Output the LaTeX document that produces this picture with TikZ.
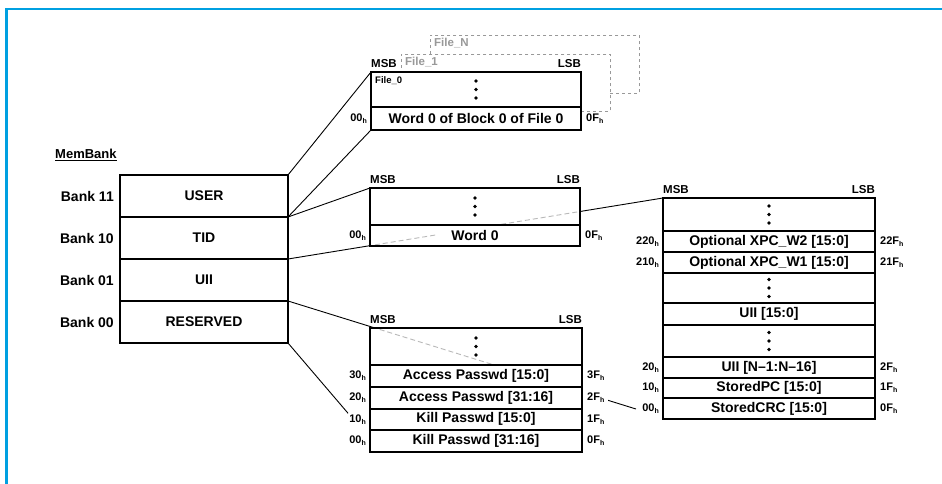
\documentclass[tikz,border=0pt]{standalone}
\usepackage{fontspec}
\setmainfont{Liberation Sans}
\usetikzlibrary{calc}
\definecolor{frameblue}{RGB}{0,160,225}
\newcommand\bigf{\fontsize{14}{16}\selectfont\bfseries}
\newcommand\smallf{\fontsize{11}{12}\selectfont\bfseries}
\newcommand\msbf{\fontsize{11.5}{13}\selectfont\bfseries}
\newcommand\hx[1]{#1\raisebox{-0.35ex}{\fontsize{7}{7}\selectfont h}}
\newcommand\vdotsin[1]{\foreach \dy in {-8.5,0,8.5}{\fill ($(#1.center)+(0,\dy)$) circle (1.8);}}
\tikzset{
  cell/.style 2 args={draw, fill=white, line width=2pt, anchor=north west,
    minimum width=#1, minimum height=#2, inner sep=0pt, outer sep=0pt, font=\bigf},
  outerln/.style={line width=2.8pt},
  conn/.style={line width=0.9pt},
  hid/.style={gray!55, line width=0.9pt, dash pattern=on 5pt off 3pt},
  filebox/.style={draw=gray!80, dashed, line width=0.8pt, anchor=north west, inner sep=0pt},
  lhex/.style={anchor=east, font=\smallf, inner sep=1pt, xshift=-3pt},
  rhex/.style={anchor=west, font=\smallf, inner sep=1pt, xshift=4pt},
  msb/.style={anchor=south west, font=\msbf, inner sep=0pt, yshift=4pt},
  lsb/.style={anchor=south east, font=\msbf, inner sep=0pt, yshift=4pt},
  banklbl/.style={anchor=east, font=\bigf, inner sep=0pt},
}
\begin{document}
\begin{tikzpicture}[x=1pt,y=-1pt]
\useasboundingbox (0,0) rectangle (942,484);
% frame
\draw[frameblue, line width=2.5pt] (6.5,484) -- (6.5,9) -- (942,9);

% corners of the MemBank box used by connectors
\coordinate (mbA) at (288,175);
\coordinate (mbB) at (288,217);
\coordinate (mbC) at (288,259);
\coordinate (mbD) at (288,301);
\coordinate (mbE) at (288,343);

% MemBank
\node[anchor=west, font=\fontsize{13}{15}\selectfont\bfseries, inner sep=0] (memlbl) at (55,155) {\underline{MemBank}};
\node[banklbl] (b11) at (114,196) {Bank 11};
\node[banklbl] (b10) at (114,238) {Bank 10};
\node[banklbl] (b01) at (114,280) {Bank 01};
\node[banklbl] (b00) at (114,322) {Bank 00};

% label of the UII box used as free end of a connector
\coordinate (crcend) at (636,409);

% solid connectors (drawn first, covered by boxes)
\draw[conn] (mbA) -- (371,72);
\draw[conn] (mbB) -- (371,130);
\draw[conn] (mbB) -- (370,188);
\draw[conn] (mbC) -- (663,198);
\draw[conn] (mbD) -- (crcend);

\node[cell={168pt}{42pt}] (user) at (120,175) {USER};
\node[cell={168pt}{42pt}] (tid) at (120,217) {TID};
\node[cell={168pt}{42pt}] (uii) at (120,259) {UII};
\node[cell={168pt}{42pt}] (resv) at (120,301) {RESERVED};
\draw[outerln] (user.north west) rectangle (resv.south east);

% USER files
\node[filebox, minimum width=209pt, minimum height=58pt] (fN) at (430,35) {};
\node[anchor=north west, font=\msbf, text=gray!80, inner sep=0] (fNl) at ($(fN.north west)+(4,3)$) {File\_N};
\node[filebox, fill=white, minimum width=209pt, minimum height=57pt] (f1) at (401,54) {};
\node[anchor=north west, font=\msbf, text=gray!80, inner sep=0] (f1l) at ($(f1.north west)+(4,3)$) {File\_1};
\node[cell={210pt}{35pt}] (f0top) at (371,72) {};
\node[cell={210pt}{23pt}] (f0word) at (371,107) {Word 0 of Block 0 of File 0};
\draw[outerln] (f0top.north west) rectangle (f0word.south east);
\node[anchor=north west, font=\fontsize{9.5}{10}\selectfont\bfseries, inner sep=0] (f0l) at ($(f0top.north west)+(4,4)$) {File\_0};
\vdotsin{f0top}
\node[msb] (f0msb) at (f0top.north west) {MSB};
\node[lsb] (f0lsb) at (f0top.north east) {LSB};
\node[lhex] (f0h0) at (f0word.west) {\hx{00}};
\node[rhex] (f0h1) at (f0word.east) {\hx{0F}};

% TID
\node[cell={210pt}{37pt}] (tidtop) at (370,188) {};
\node[cell={210pt}{21pt}] (tidword) at (370,225) {Word 0};
\draw[outerln] (tidtop.north west) rectangle (tidword.south east);
\vdotsin{tidtop}
\node[msb] (tmsb) at (tidtop.north west) {MSB};
\node[lsb] (tlsb) at (tidtop.north east) {LSB};
\node[lhex] (th0) at (tidword.west) {\hx{00}};
\node[rhex] (th1) at (tidword.east) {\hx{0F}};

% RESERVED
\node[cell={212pt}{37pt}] (rtop) at (370,328) {};
\node[cell={212pt}{21.75pt}] (r30) at (370,365) {Access Passwd [15:0]};
\node[cell={212pt}{21.75pt}] (r20) at (370,386.75) {Access Passwd [31:16]};
\node[cell={212pt}{21.75pt}] (r10) at (370,408.5) {Kill Passwd [15:0]};
\node[cell={212pt}{21.75pt}] (r00) at (370,430.25) {Kill Passwd [31:16]};
\draw[outerln] (rtop.north west) rectangle (r00.south east);
\vdotsin{rtop}
\node[msb] (rmsb) at (rtop.north west) {MSB};
\node[lsb] (rlsb) at (rtop.north east) {LSB};
\node[lhex] (rl30) at (r30.west) {\hx{30}};
\node[lhex] (rl20) at (r20.west) {\hx{20}};
\node[lhex, fill=white] (rl10) at (r10.west) {\hx{10}};
\node[lhex] (rl00) at (r00.west) {\hx{00}};
\node[rhex] (rr30) at (r30.east) {\hx{3F}};
\node[rhex, fill=white, xshift=-3pt, inner xsep=4pt] (rr20) at (r20.east) {\hx{2F}};
\node[rhex] (rr10) at (r10.east) {\hx{1F}};
\node[rhex] (rr00) at (r00.east) {\hx{0F}};
\draw[conn] (mbE) -- (rl10.north west);

% UII memory
\node[cell={212pt}{33pt}] (u1) at (663,198) {};
\node[cell={212pt}{21pt}] (xw2) at (663,231) {Optional XPC\_W2 [15:0]};
\node[cell={212pt}{21pt}] (xw1) at (663,252) {Optional XPC\_W1 [15:0]};
\node[cell={212pt}{30pt}] (u2) at (663,273) {};
\node[cell={212pt}{22pt}] (u15) at (663,303) {UII [15:0]};
\node[cell={212pt}{32pt}] (u3) at (663,325) {};
\node[cell={212pt}{21pt}] (un) at (663,357) {UII [N–1:N–16]};
\node[cell={212pt}{20pt}] (pc) at (663,378) {StoredPC [15:0]};
\node[cell={212pt}{21pt}] (crc) at (663,398) {StoredCRC [15:0]};
\draw[outerln] (u1.north west) rectangle (crc.south east);
\vdotsin{u1}
\vdotsin{u2}
\vdotsin{u3}
\node[msb] (umsb) at (u1.north west) {MSB};
\node[lsb] (ulsb) at (u1.north east) {LSB};
\node[lhex] (ul220) at (xw2.west) {\hx{220}};
\node[lhex] (ul210) at (xw1.west) {\hx{210}};
\node[lhex] (ul20) at (un.west) {\hx{20}};
\node[lhex] (ul10) at (pc.west) {\hx{10}};
\node[lhex, fill=white] (ul00) at (crc.west) {\hx{00}};
\node[rhex] (ur22) at (xw2.east) {\hx{22F}};
\node[rhex] (ur21) at (xw1.east) {\hx{21F}};
\node[rhex] (ur2) at (un.east) {\hx{2F}};
\node[rhex] (ur1) at (pc.east) {\hx{1F}};
\node[rhex] (ur0) at (crc.east) {\hx{0F}};

% hidden (dashed) parts of connectors
\begin{scope}
  \clip ($(tidword.north west)+(1.5,1.5)$) rectangle ($(tidword.south west)+(66,-1.5)$);
  \draw[hid] (mbC) -- (u1.north west);
\end{scope}
\begin{scope}
  \clip ($(tidtop.north west)+(1.5,1.5)$) rectangle ($(tidtop.south east)+(-1.5,-1.5)$);
  \draw[hid] (mbC) -- (u1.north west);
\end{scope}
\begin{scope}
  \clip ($(rtop.north west)+(1.5,1.5)$) rectangle ($(rtop.south east)+(-1.5,-1.5)$);
  \draw[hid] (mbD) -- (crcend);
\end{scope}
\end{tikzpicture}
\end{document}
